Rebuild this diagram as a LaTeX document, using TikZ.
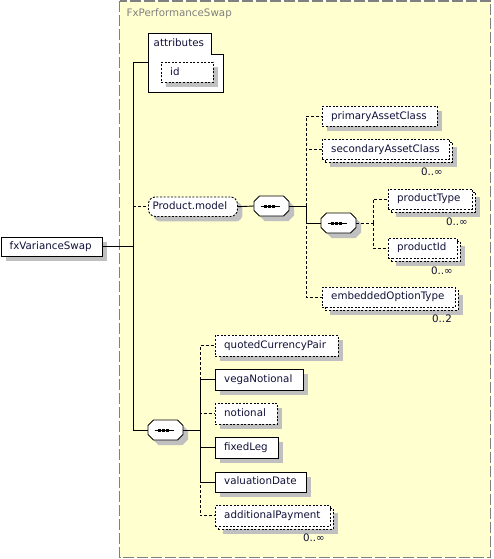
\documentclass[tikz,border=0pt]{standalone}
\usepackage{fontspec}
\setmainfont{DejaVu Sans}
\usetikzlibrary{shadows}
\definecolor{frameyellow}{RGB}{255,255,208}
\definecolor{framegray}{RGB}{128,128,128}
\definecolor{shadowgray}{RGB}{192,192,192}
\definecolor{txt}{RGB}{16,16,56}
\begin{document}
\begin{tikzpicture}[x=1pt,y=-1pt,
  font=\fontsize{10.3}{12}\selectfont,
  shad/.style={general shadow={shadow xshift=5pt,shadow yshift=-5pt,fill=shadowgray,draw=none,opacity=1}},
  elemns/.style={draw=black,fill=white,line width=0.9pt,inner sep=0pt,anchor=north west},
  elem/.style={elemns,shad},
  optns/.style={elemns,dash pattern=on 2pt off 1.6pt},
  opt/.style={optns,shad},
  seqbox/.style={rectangle,draw=none,minimum width=35pt,minimum height=20pt,inner sep=0pt},
  lbl/.style={anchor=west,inner sep=0pt,text=txt,text height=7.6pt,text depth=2.2pt},
  card/.style={anchor=east,inner sep=0pt,text=txt,text height=7.6pt,text depth=2.2pt},
  conn/.style={line width=0.9pt,draw=black},
  dconn/.style={line width=0.9pt,draw=black,dash pattern=on 3pt off 2pt},
]
\useasboundingbox (0,0) rectangle (493,559);
% frame
\draw[fill=frameyellow,draw=framegray,line width=1.2pt,dash pattern=on 11pt off 3pt] (119.5,1) rectangle (490.5,557.5);
\node[anchor=west,inner sep=0pt,text=framegray,text height=7.6pt,text depth=2.2pt] (title) at (126.5,14) {FxPerformanceSwap};

% root element
\node[elem,minimum width=101pt,minimum height=19.5pt] (fx) at (0.5,236.5) {};
\node[lbl] (t-fx) at ([xshift=9pt]fx.west) {fxVarianceSwap};

% attributes
\draw[line width=0.9pt,fill=white] (148,33) -- (211,33) -- (211,54) -- (223,54) -- (223,92) -- (148,92) -- cycle;
\node[lbl] (attr) at (153.5,44) {attributes};
\coordinate (attrW) at (148,62);
\node[opt,minimum width=52pt,minimum height=20pt] (id) at (161,62) {};
\node[lbl] (t-id) at ([xshift=9pt]id.west) {id};

% Product.model
\node[opt,rounded corners=7pt,minimum width=89pt,minimum height=19.5pt] (pm) at (148,196.5) {};
\node[lbl] (t-pm) at ([xshift=4.5pt]pm.west) {Product.model};

% sequences
\node[seqbox] (s1) at (271.5,206) {};
\node[seqbox] (s2) at (338.5,223) {};
\node[seqbox] (s3) at (165.5,430) {};
\foreach \s in {s1,s2,s3}{
  \fill[shadowgray] ([shift={(5,5)}]\s.center) ++(-12,-10) -- ++(24,0) -- ++(5.5,5.5) -- ++(0,9) -- ++(-5.5,5.5) -- ++(-24,0) -- ++(-5.5,-5.5) -- ++(0,-9) -- cycle;
  \draw[fill=white,line width=0.9pt] (\s.center) ++(-12,-10) -- ++(24,0) -- ++(5.5,5.5) -- ++(0,9) -- ++(-5.5,5.5) -- ++(-24,0) -- ++(-5.5,-5.5) -- ++(0,-9) -- cycle;
  \draw[line width=0.9pt] ([xshift=-11pt]\s.center) -- ([xshift=8pt]\s.center);
  \foreach \d in {-6,-2,2}{
    \fill ([xshift=\d pt]\s.center) ++(-1.5,-1.5) rectangle ++(3,3);
  }
}

% children of s1
\node[opt,minimum width=115pt,minimum height=20pt] (pac) at (322,106) {};
\node[lbl] (t-pac) at ([xshift=9pt]pac.west) {primaryAssetClass};

\node[opt,minimum width=127pt,minimum height=20pt] (sacb) at (325,142) {};
\node[optns,minimum width=127pt,minimum height=20pt] (sac) at (322,139) {};
\node[lbl] (t-sac) at ([xshift=9pt]sac.west) {secondaryAssetClass};
\node[card] (c-sac) at (443,173) {0..∞};

\node[opt,minimum width=84pt,minimum height=19.5pt] (ptb) at (391,192) {};
\node[optns,minimum width=84pt,minimum height=19.5pt] (pt) at (388,189) {};
\node[lbl] (t-pt) at ([xshift=9pt]pt.west) {productType};
\node[card] (c-pt) at (468,223) {0..∞};

\node[opt,minimum width=69pt,minimum height=19.5pt] (pidb) at (391,241) {};
\node[optns,minimum width=69pt,minimum height=19.5pt] (pid) at (388,238) {};
\node[lbl] (t-pid) at ([xshift=9pt]pid.west) {productId};
\node[card] (c-pid) at (453,272) {0..∞};

\node[opt,minimum width=133pt,minimum height=19.5pt] (eotb) at (325,290) {};
\node[optns,minimum width=133pt,minimum height=19.5pt] (eot) at (322,287) {};
\node[lbl] (t-eot) at ([xshift=9pt]eot.west) {embeddedOptionType};
\node[card] (c-eot) at (452,320) {0..2};

% children of s3
\node[opt,minimum width=123pt,minimum height=20.5pt] (qcp) at (215,335) {};
\node[lbl] (t-qcp) at ([xshift=9pt]qcp.west) {quotedCurrencyPair};
\node[elem,minimum width=88pt,minimum height=20.5pt] (vn) at (215,369) {};
\node[lbl] (t-vn) at ([xshift=9pt]vn.west) {vegaNotional};
\node[opt,minimum width=62pt,minimum height=20.5pt] (nt) at (215,403) {};
\node[lbl] (t-nt) at ([xshift=9pt]nt.west) {notional};
\node[elem,minimum width=63pt,minimum height=20.5pt] (fl) at (215,437) {};
\node[lbl] (t-fl) at ([xshift=9pt]fl.west) {fixedLeg};
\node[elem,minimum width=91pt,minimum height=20.5pt] (vd) at (215,471.5) {};
\node[lbl] (t-vd) at ([xshift=9pt]vd.west) {valuationDate};
\node[opt,minimum width=115pt,minimum height=20.5pt] (apb) at (218,508) {};
\node[optns,minimum width=115pt,minimum height=20.5pt] (ap) at (215,505) {};
\node[lbl] (t-ap) at ([xshift=9pt]ap.west) {additionalPayment};
\node[card] (c-ap) at (325,539) {0..∞};

% junction coordinates
\coordinate (T) at (133,0);
\coordinate (J1) at (306,0);
\coordinate (J2) at (373,0);
\coordinate (J3) at (200,0);

% connectors
\draw[conn] (fx.east) -- (fx.east -| T);
\draw[dconn] (pm.west -| T) -- (pm.west);
\draw[conn] (attrW -| T) -- (s3.west -| T);
\draw[conn] (attrW -| T) -- (attrW);
\draw[conn] (s3.west -| T) -- (s3.west);
\draw[conn] (pm.east) -- (s1.west);
\draw[conn] (s1.east) -- (s1.east -| J1);
\draw[dconn] (s1.east -| J1) |- (pac.west);
\draw[dconn] (s1.east -| J1) |- (sac.west);
\draw[dconn] (s1.east -| J1) |- (eot.west);
\draw[conn] (s1.east -| J1) |- (s2.west);
\draw[dconn] (s2.east) -- (s2.east -| J2);
\draw[dconn] (s2.east -| J2) |- (pt.west);
\draw[dconn] (s2.east -| J2) |- (pid.west);
\draw[conn] (s3.east) -- (s3.east -| J3);
\draw[dconn] (s3.east -| J3) |- (qcp.west);
\draw[dconn] (s3.east -| J3) |- (nt.west);
\draw[dconn] (s3.east -| J3) |- (ap.west);
\draw[conn] (s3.east -| J3) |- (vn.west);
\draw[conn] (s3.east -| J3) |- (fl.west);
\draw[conn] (s3.east -| J3) |- (vd.west);
\end{tikzpicture}
\end{document}
